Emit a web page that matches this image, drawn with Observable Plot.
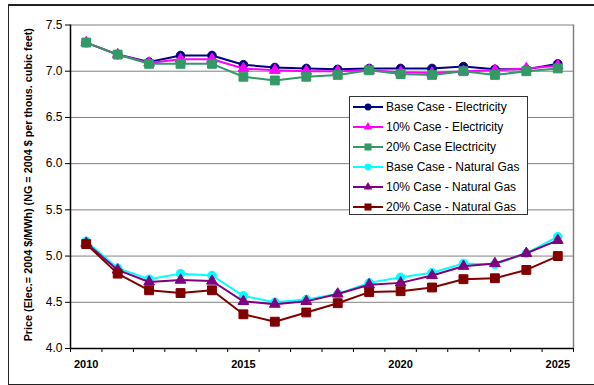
<!DOCTYPE html>
<html>
<head>
<meta charset="utf-8">
<script src="https://cdn.jsdelivr.net/npm/d3@7"></script>
<script src="https://cdn.jsdelivr.net/npm/@observablehq/plot@0.6"></script>
<style>
  body { margin: 0; background: #fff; }
  #wrap { position: relative; width: 594px; height: 385px; overflow: hidden; font-family: "Liberation Sans", Arial, sans-serif; }
  #frame { position: absolute; left: 8px; top: 4px; width: 600px; height: 378px; border-top: 2px solid #222; border-left: 1px solid #222; border-bottom: 1px solid #222; pointer-events: none; }
  #legend { position: absolute; left: 349px; top: 96px; width: 179px; height: 119px; background: #fff; border: 1px solid #333; box-sizing: border-box; }
  .row { position: absolute; left: 0; height: 16px; display: flex; align-items: center; font-size: 12px; color: #000; white-space: nowrap; }
  .row svg { margin-left: 3px; margin-right: 3px; }
</style>
</head>
<body>
<div id="wrap"><div id="frame"></div></div>
<script>
const years = [2010,2011,2012,2013,2014,2015,2016,2017,2018,2019,2020,2021,2022,2023,2024,2025];
const baseElec   = [7.31,7.18,7.10,7.17,7.17,7.07,7.04,7.03,7.02,7.03,7.03,7.03,7.05,7.02,7.02,7.08];
const tenElec    = [7.31,7.18,7.09,7.13,7.13,7.03,7.01,7.00,7.00,7.01,6.99,6.98,7.00,7.01,7.03,7.06];
const twentyElec = [7.31,7.18,7.08,7.08,7.08,6.94,6.90,6.94,6.96,7.01,6.97,6.96,7.00,6.96,7.00,7.03];
const baseNG     = [5.16,4.87,4.75,4.81,4.79,4.57,4.50,4.53,4.59,4.71,4.77,4.82,4.92,4.91,5.03,5.21];
const tenNG      = [5.14,4.85,4.72,4.74,4.73,4.51,4.48,4.51,4.59,4.69,4.71,4.79,4.89,4.92,5.03,5.17];
const twentyNG   = [5.13,4.81,4.63,4.60,4.63,4.37,4.29,4.39,4.49,4.61,4.62,4.66,4.75,4.76,4.85,5.00];

const seriesNames = ["Base Case - Electricity","10% Case - Electricity","20% Case Electricity","Base Case - Natural Gas","10% Case - Natural Gas","20% Case - Natural Gas"];
const seriesValues = [baseElec, tenElec, twentyElec, baseNG, tenNG, twentyNG];
const seriesColors = ["#000080","#FF00FF","#339966","#00FFFF","#800080","#800000"];
const seriesSymbols = ["circle","triangle","square","circle","triangle","square"];

const yTicks = [4.0,4.5,5.0,5.5,6.0,6.5,7.0,7.5];
const xLabelYears = [2010,2015,2020,2025];
const yTitle = "Price (Elec.= 2004 $/MWh) (NG = 2004 $ per thous. cubic feet)";

const xBounds = years.map(y => y - 0.5).concat([years[years.length-1] + 0.5]);
const symR = {circle: 4.3, triangle: 4.0, square: 5.0};

const seriesMarks = [];
seriesValues.forEach((vals, s) => {
  const rows = years.map((yr, i) => ({year: yr, value: vals[i]}));
  seriesMarks.push(Plot.line(rows, {x: "year", y: "value", stroke: seriesColors[s], strokeWidth: 2}));
  seriesMarks.push(Plot.dot(rows, {x: "year", y: "value", symbol: seriesSymbols[s], r: symR[seriesSymbols[s]], fill: seriesColors[s], stroke: seriesColors[s], strokeWidth: 1}));
});

const chart = Plot.plot({
  width: 594,
  height: 385,
  marginLeft: 70,
  marginRight: 21,
  marginTop: 24.5,
  marginBottom: 37,
  style: {fontFamily: "'Liberation Sans', Arial, sans-serif", background: "transparent", color: "#000"},
  x: {domain: [xBounds[0], xBounds[xBounds.length-1]]},
  y: {domain: [4, 7.5]},
  marks: [
    Plot.gridY(yTicks, {stroke: "#808080", strokeOpacity: 1, strokeWidth: 1}),
    Plot.ruleX([xBounds[xBounds.length-1]], {stroke: "#808080", strokeWidth: 1.5}),
    ...seriesMarks,
    Plot.ruleX([xBounds[0]], {stroke: "#000", strokeWidth: 1.5}),
    Plot.ruleY([4], {stroke: "#000", strokeWidth: 1.5}),
    Plot.axisY(yTicks, {tickSize: 5, tickPadding: 3, fontSize: 12, tickFormat: d => d.toFixed(1), label: null, stroke: "#000"}),
    Plot.axisX(xBounds, {tickSize: 4, tickFormat: () => "", label: null, stroke: "#000"}),
    Plot.axisX(xLabelYears, {tickSize: 0, tickPadding: 12, fontSize: 11, fontWeight: "bold", tickFormat: d => String(d), label: null}),
    Plot.text([yTitle], {frameAnchor: "left", textAnchor: "middle", rotate: -90, dx: -42, dy: -2, fontSize: 10.8, fontWeight: "bold", fill: "#000"})
  ]
});

const wrap = document.getElementById("wrap");
chart.style.position = "absolute";
chart.style.left = "0px";
chart.style.top = "0px";
wrap.insertBefore(chart, wrap.firstChild);

// Legend
const legend = document.createElement("div");
legend.id = "legend";
const rowTops = [2, 22, 41.5, 61.5, 82, 102];
seriesNames.forEach((name, s) => {
  const row = document.createElement("div");
  row.className = "row";
  row.style.top = rowTops[s] + "px";
  const ns = "http://www.w3.org/2000/svg";
  const svg = document.createElementNS(ns, "svg");
  svg.setAttribute("width", 30); svg.setAttribute("height", 14);
  const line = document.createElementNS(ns, "line");
  line.setAttribute("x1", 0); line.setAttribute("x2", 30); line.setAttribute("y1", 7); line.setAttribute("y2", 7);
  line.setAttribute("stroke", seriesColors[s]); line.setAttribute("stroke-width", 2);
  svg.appendChild(line);
  const sym = seriesSymbols[s];
  const symbolType = sym === "circle" ? d3.symbolCircle : sym === "triangle" ? d3.symbolTriangle : d3.symbolSquare;
  const r = symR[sym] * 0.8;
  const path = document.createElementNS(ns, "path");
  path.setAttribute("d", d3.symbol(symbolType, Math.PI * r * r)());
  path.setAttribute("transform", "translate(15,7)");
  path.setAttribute("fill", seriesColors[s]);
  svg.appendChild(path);
  row.appendChild(svg);
  const t = document.createElement("span");
  t.textContent = name;
  row.appendChild(t);
  legend.appendChild(row);
});
wrap.appendChild(legend);
</script>
</body>
</html>
